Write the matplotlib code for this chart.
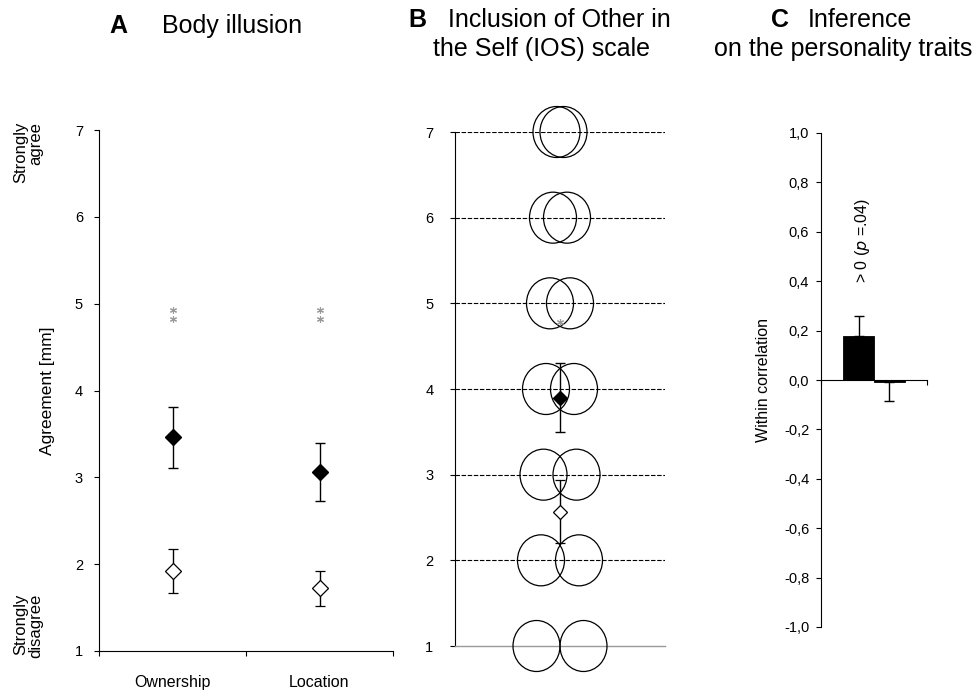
import numpy as np
import matplotlib

matplotlib.use("Agg")
import matplotlib.pyplot as plt
from matplotlib.patches import Ellipse
from matplotlib.ticker import FuncFormatter

plt.rcParams["font.family"] = ["Liberation Sans", "DejaVu Sans"]

# --- A: body illusion questionnaire ---
A_CATEGORIES = ["Ownership", "Location"]
A_SYNC_MEAN = [3.46, 3.06]
A_SYNC_ERR = [0.35, 0.33]
A_ASYNC_MEAN = [1.92, 1.72]
A_ASYNC_ERR = [0.25, 0.20]
A_STAR_Y = [4.93, 4.82]

# --- B: IOS scale ---
IOS_LEVELS = [1, 2, 3, 4, 5, 6, 7]
IOS_CIRCLE_SEP = [47, 38, 33, 28, 20, 14, 7]      # px between circle centres
B_SYNC_MEAN, B_SYNC_ERR = 3.90, 0.40
B_ASYNC_MEAN, B_ASYNC_ERR = 2.57, 0.37
B_STAR_Y = 4.78

# --- C: within correlation ---
C_VALUES = [0.18, -0.01]
C_ERR_UP = [0.08, 0.0]
C_ERR_DN = [0.0, 0.075]
C_YTICKS = [-1.0, -0.8, -0.6, -0.4, -0.2, 0.0, 0.2, 0.4, 0.6, 0.8, 1.0]

W, H = 977, 693
fig = plt.figure(figsize=(W / 100, H / 100), dpi=100)


def px_axes(x0, y0, x1, y1):
    return fig.add_axes([x0 / W, 1 - y1 / H, (x1 - x0) / W, (y1 - y0) / H])


def ftext(x, y, s, **kw):
    fig.text(x / W, 1 - y / H, s, **kw)


LW = 0.8
TICK = dict(direction="out", length=3.5, width=LW, labelsize=10.5)

# ---------------- panel A ----------------
axA = px_axes(99, 130, 393, 651)
xa = np.arange(len(A_CATEGORIES)) + 0.5
axA.errorbar(xa, A_SYNC_MEAN, yerr=A_SYNC_ERR, fmt="D", color="black", ms=8,
             mfc="black", mec="black", elinewidth=1.0, capsize=3.5, capthick=1.0, zorder=4)
axA.errorbar(xa, A_ASYNC_MEAN, yerr=A_ASYNC_ERR, fmt="D", color="black", ms=8,
             mfc="white", mec="black", mew=0.9, elinewidth=1.0, capsize=3.5,
             capthick=1.0, zorder=4)
for x in xa:
    axA.plot([x] * len(A_STAR_Y), A_STAR_Y, ls="none", marker=(6, 2, 0), ms=5,
             color="#9a9a9a", mew=0.8)
axA.set_xlim(0, 2)
axA.set_ylim(1, 7)
axA.set_yticks(range(1, 8))
axA.set_xticks([0, 1, 2])
axA.set_xticklabels([])
axA.set_xticks(xa, minor=True)
axA.set_xticklabels(A_CATEGORIES, minor=True, fontsize=11.5)
axA.tick_params(axis="x", which="minor", length=0, pad=17)
axA.tick_params(**TICK)
axA.tick_params(axis="y", pad=8)
axA.spines[["top", "right"]].set_visible(False)
axA.spines[["left", "bottom"]].set_linewidth(LW)
axA.set_ylabel("Agreement [mm]", fontsize=12.5)
axA.yaxis.set_label_coords(-(99 - 55) / (393 - 99), 0.5)

ftext(28, 122, "Strongly\nagree", rotation=90, ha="center", va="top",
      multialignment="right", fontsize=12, linespacing=1.0)
ftext(28, 658, "Strongly\ndisagree", rotation=90, ha="center", va="bottom",
      multialignment="right", fontsize=12, linespacing=1.0)

# ---------------- panel B ----------------
bx0, bx1, by0, by1 = 455, 665, 132, 646
axB = px_axes(bx0, by0, bx1, by1)
axB.set_xlim(0, 1)
axB.set_ylim(1, 7)
px_x = 1.0 / (bx1 - bx0)
px_y = 6.0 / (by1 - by0)
ew, eh = 47 * px_x, 51 * px_y
for lev, sep in zip(IOS_LEVELS, IOS_CIRCLE_SEP):
    for side in (-1, 1):
        axB.add_patch(Ellipse((0.5 + side * sep * px_x / 2, lev), ew, eh,
                              fill=False, ec="black", lw=0.9, clip_on=False, zorder=3))
axB.hlines(IOS_LEVELS[1:], 0, 1, colors="black", lw=0.8,
           linestyles=(0, (4, 1.5)), zorder=2)
axB.errorbar([0.5], [B_SYNC_MEAN], yerr=[B_SYNC_ERR], fmt="D", color="black", ms=7,
             mfc="black", mec="black", elinewidth=1.0, capsize=3.5, capthick=1.0, zorder=5)
axB.errorbar([0.5], [B_ASYNC_MEAN], yerr=[B_ASYNC_ERR], fmt="D", color="black", ms=7,
             mfc="white", mec="black", mew=0.9, elinewidth=1.0, capsize=3.5,
             capthick=1.0, zorder=5)
axB.plot([0.5], [B_STAR_Y], ls="none", marker=(6, 2, 0), ms=5, color="#9a9a9a",
         mew=0.8, zorder=4)
axB.set_yticks(IOS_LEVELS)
axB.set_xticks([])
axB.tick_params(**TICK)
axB.tick_params(axis="y", pad=12)
axB.spines[["top", "right"]].set_visible(False)
axB.spines["left"].set_linewidth(LW)
axB.spines["bottom"].set_linewidth(1.0)
axB.spines["bottom"].set_color("#9a9a9a")

# ---------------- panel C ----------------
axC = px_axes(821, 133, 927, 627)
xc = [0.355, 0.645]
axC.bar(xc, C_VALUES, width=0.29, color="black", edgecolor="black", lw=0.6, zorder=3)
axC.errorbar(xc, C_VALUES, yerr=[C_ERR_DN, C_ERR_UP], fmt="none", ecolor="black",
             elinewidth=1.0, capsize=3.5, capthick=1.0, zorder=4)
axC.set_xlim(0, 1)
axC.set_ylim(-1, 1)
axC.set_yticks(C_YTICKS)
axC.yaxis.set_major_formatter(FuncFormatter(lambda v, _: f"{v:.1f}".replace(".", ",")
                                            .replace("-0,0", "0,0")))
axC.set_xticks([0, 1])
axC.set_xticklabels([])
axC.tick_params(**TICK)
axC.tick_params(axis="y", pad=5)
axC.spines[["top", "right"]].set_visible(False)
axC.spines["bottom"].set_position(("data", 0))
axC.spines[["left", "bottom"]].set_linewidth(LW)
axC.set_ylabel("Within correlation", fontsize=11.5)
axC.yaxis.set_label_coords(-(821 - 771) / (927 - 821), 0.5)
axC.text(0.387, 0.393, r"> 0 ($\it{p}$ =.04)", rotation=90, ha="center", va="bottom",
         fontsize=11.5)

# ---------------- titles ----------------
TS = 18
ftext(118, 33, "A", fontsize=TS, fontweight="bold", ha="center", va="baseline")
ftext(162, 33, "Body illusion", fontsize=TS, ha="left", va="baseline")
ftext(417, 27, "B", fontsize=TS, fontweight="bold", ha="center", va="baseline")
ftext(448, 27, "Inclusion of Other in", fontsize=TS, ha="left", va="baseline")
ftext(433, 56, "the Self (IOS) scale", fontsize=TS, ha="left", va="baseline")
ftext(780, 27, "C", fontsize=TS, fontweight="bold", ha="center", va="baseline")
ftext(808, 27, "Inference", fontsize=TS, ha="left", va="baseline")
ftext(714, 56, "on the personality traits", fontsize=TS, ha="left", va="baseline")

fig.savefig("out.png", dpi=100)
